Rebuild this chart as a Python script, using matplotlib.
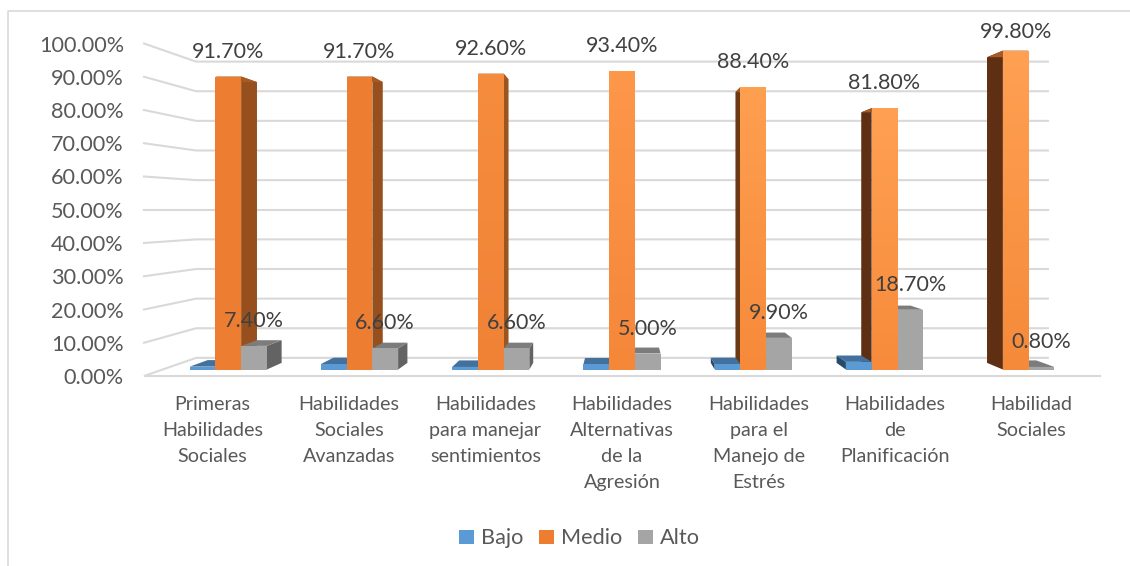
import numpy as np
import matplotlib
matplotlib.use("Agg")
import matplotlib.pyplot as plt
from matplotlib.patches import Polygon, Patch
from matplotlib.lines import Line2D
from matplotlib.colors import to_rgb

# ---- data ----
categories = ["Primeras\nHabilidades\nSociales", "Habilidades\nSociales\nAvanzadas",
              "Habilidades\npara manejar\nsentimientos", "Habilidades\nAlternativas\nde la\nAgresión",
              "Habilidades\npara el\nManejo de\nEstrés", "Habilidades\nde\nPlanificación",
              "Habilidad\nSociales"]
bajo = [0.9, 1.7, 0.8, 1.6, 1.7, 2.4, 0.0]
medio = [91.7, 91.7, 92.6, 93.4, 88.4, 81.8, 99.8]
alto = [7.4, 6.6, 6.6, 5.0, 9.9, 18.7, 0.8]
medio_labels = ["91.70%", "91.70%", "92.60%", "93.40%", "88.40%", "81.80%", "99.80%"]
alto_labels = ["7.40%", "6.60%", "6.60%", "5.00%", "9.90%", "18.70%", "0.80%"]
y_ticks = list(range(0, 101, 10))
y_tick_labels = [f"{v}.00%" for v in y_ticks]

# ---- style ----
plt.rcParams["font.family"] = ["Lato", "DejaVu Sans"]
TXT = "#595959"
LBL = "#404040"
GRID = "#D9D9D9"
S_FRONT, S_BARBACK, S_WALL = 0.961, 0.921, 0.891
VP_U, VP_V = 3.5, 50.0
BAR_W = 0.196
medio_front = [("#ED7D31", "#ED7D31"), ("#ED7D31", "#ED7D31"), ("#F68C3E", "#F08236"),
               ("#FD9749", "#F58739"), ("#FF9F50", "#F68A3A"), ("#FFA052", "#F78B3B"),
               ("#FFA052", "#F58A3A")]
medio_side = ["#97501D", "#97501D", "#9A5520", "#9A5520", "#6B3A14", "#5E2F12", "#5E2F12"]
styles = {"Bajo": ("#5B9BD5", "#41719C", "#264A6A"),
          "Alto": ("#A5A5A5", "#7C7C7C", "#636363")}
label_lift_px = [25, 25, 25, 25, 25, 25, 19]

W, H = 1130, 566
fig = plt.figure(figsize=(W / 100, H / 100), dpi=100, facecolor="white")
ax = fig.add_axes([144 / W, 1 - 376 / H, (1100 - 144) / W, (376 - 43.5) / H])
ax.patch.set_visible(False)
ax.set_xlim(0, 7)
ax.set_ylim(0, 100)
for sp in ax.spines.values():
    sp.set_visible(False)


def proj(u, v, s):
    return VP_U + (u - VP_U) * s, VP_V + (v - VP_V) * s


# walls
for v in y_ticks:
    pts = [proj(0, v, 1), proj(0, v, S_WALL), proj(7, v, S_WALL)]
    if v == 0:
        pts = [proj(7, 0, 1), proj(0, 0, 1)] + pts[1:]
    ax.plot(*zip(*pts), color=GRID, lw=1.5, zorder=1, clip_on=False, solid_joinstyle="miter")

# bars: farther from the vanishing point first
bars = []
for i in range(len(categories)):
    c = i + 0.5
    bars.append((c - BAR_W * 1.5, bajo[i], "Bajo", i))
    bars.append((c - BAR_W * 0.5, medio[i], "Medio", i))
    bars.append((c + BAR_W * 0.5, alto[i], "Alto", i))
bars.sort(key=lambda b: -abs(b[0] + BAR_W / 2 - VP_U))

z = 2
for u0, v, name, i in bars:
    if v <= 0:
        continue
    u1 = u0 + BAR_W
    if name == "Medio":
        top_c, bot_c = medio_front[i]
        side_c = medio_side[i]
        lid_c = "#A65A24"
    else:
        top_c = bot_c = styles[name][0]
        lid_c, side_c = styles[name][1], styles[name][2]
    edge = None
    if u1 < VP_U - 1e-6:
        edge = u1
    elif u0 > VP_U + 1e-6:
        edge = u0
    if edge is not None:
        ax.add_patch(Polygon([proj(edge, 0, S_FRONT), proj(edge, v, S_FRONT),
                              proj(edge, v, S_BARBACK), proj(edge, 0, S_BARBACK)],
                             closed=True, fc=side_c, ec="none", zorder=z, clip_on=False))
        z += 1
    ax.add_patch(Polygon([proj(u0, v, S_FRONT), proj(u1, v, S_FRONT),
                          proj(u1, v, S_BARBACK), proj(u0, v, S_BARBACK)],
                         closed=True, fc=lid_c, ec="none", zorder=z, clip_on=False))
    z += 1
    x0, b0 = proj(u0, 0, S_FRONT)
    x1, t1 = proj(u1, v, S_FRONT)
    rect = ax.bar(x0, t1 - b0, width=x1 - x0, bottom=b0, align="edge", color=top_c,
                  linewidth=0, zorder=z, clip_on=False)[0]
    z += 1
    if top_c != bot_c:
        grad = np.linspace(to_rgb(top_c), to_rgb(bot_c), 64)[:, None, :]
        im = ax.imshow(grad, extent=(x0, x1, b0, t1), origin="upper", aspect="auto",
                       interpolation="bilinear", zorder=z)
        im.set_clip_path(rect)
        z += 1

ax.set_xlim(0, 7)
ax.set_ylim(0, 100)

# data labels, on top of all bars
for i in range(len(categories)):
    c = i + 0.5
    for u, v, txt, lift in [(c, medio[i], medio_labels[i], label_lift_px[i]),
                            (c + BAR_W, alto[i], alto_labels[i], 25)]:
        ax.annotate(txt, xy=proj(u, v, S_FRONT), xytext=(0, lift * 72 / 100),
                    textcoords="offset points", ha="center", va="center",
                    fontsize=15.5, color=LBL, zorder=z + 5, annotation_clip=False)

# axes text
ax.set_yticks(y_ticks)
ax.set_yticklabels(y_tick_labels, fontsize=15.6, color=TXT)
ax.set_xticks([i + 0.5 for i in range(len(categories))])
ax.set_xticklabels(categories, fontsize=14.2, color=TXT, linespacing=1.63, va="top")
ax.tick_params(axis="both", length=0)
ax.tick_params(axis="y", pad=14.5)
ax.tick_params(axis="x", pad=14.5)

# legend
handles = [Patch(fc="#5B9BD5", label="Bajo"), Patch(fc="#ED7D31", label="Medio"),
           Patch(fc="#A5A5A5", label="Alto")]
fig.legend(handles=handles, ncol=3, frameon=False, loc="center",
           bbox_to_anchor=(579.5 / W, 1 - 538.5 / H), fontsize=15.6, labelcolor=TXT,
           handlelength=0.66, handleheight=0.66, handletextpad=0.33, columnspacing=0.75,
           borderpad=0, borderaxespad=0)

# chart frame
fig.add_artist(Line2D([7.5 / W, 7.5 / W, 1], [0, 1 - 10.5 / H, 1 - 10.5 / H],
                      transform=fig.transFigure, color=GRID, lw=1.2))

fig.savefig("out.png", dpi=100, facecolor="white")
